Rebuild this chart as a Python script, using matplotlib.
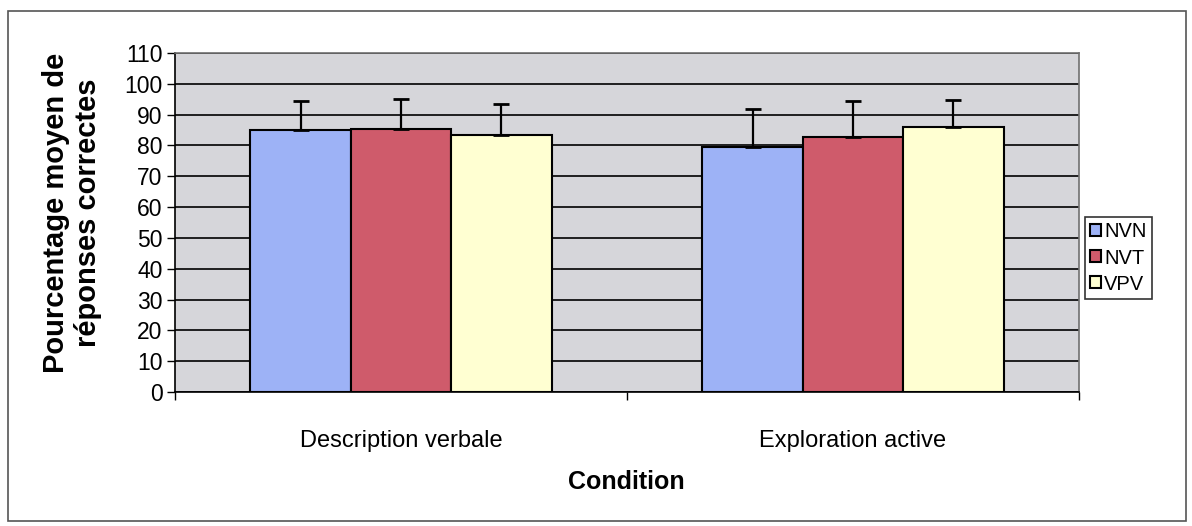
# Graphique à barres : pourcentage moyen de réponses correctes par condition
import numpy as np
import matplotlib.pyplot as plt
from matplotlib.patches import Rectangle

plt.rcParams['font.family'] = ['Liberation Sans', 'DejaVu Sans']

# Données
conditions = ['Description verbale', 'Exploration active']
groupes = ['NVN', 'NVT', 'VPV']
moyennes = {
    'NVN': [85.0, 79.4],
    'NVT': [85.4, 82.9],
    'VPV': [83.4, 86.1],
}
erreurs = {
    'NVN': [9.5, 12.4],
    'NVT': [9.8, 11.6],
    'VPV': [10.2, 8.8],
}
couleurs = {'NVN': '#9db2f6', 'NVT': '#cf5b6b', 'VPV': '#ffffd2'}

fig = plt.figure(figsize=(11.92, 5.26), dpi=100)
W, H = 1192, 526
ax = fig.add_axes([175 / W, 1 - 392 / H, (1079 - 175) / W, (392 - 53) / H])

# Cadre extérieur
fig.patches.append(Rectangle((8 / W, 1 - 521 / H), (1186 - 8) / W, (521 - 11) / H,
                             transform=fig.transFigure, fill=False,
                             edgecolor='#555555', linewidth=1.2))

x = np.arange(len(conditions))
largeur = 1 / 4.5
for i, g in enumerate(groupes):
    pos = x + (i - 1) * largeur
    ax.bar(pos, moyennes[g], width=largeur, color=couleurs[g],
           edgecolor='black', linewidth=1.5, label=g, zorder=3)
    ax.errorbar(pos, moyennes[g], yerr=[np.zeros(len(x)), erreurs[g]],
                fmt='none', ecolor='black', elinewidth=1.6, capsize=6,
                capthick=2, zorder=4)

ax.set_facecolor('#d6d6da')
ax.set_ylim(0, 110)
ax.set_xlim(-0.5, 1.5)
ax.set_yticks(np.arange(0, 111, 10))
ax.yaxis.grid(True, color='black', linewidth=1.2, zorder=1)
ax.set_axisbelow(True)

ax.set_xticks([-0.5, 0.5, 1.5])
ax.set_xticklabels([])
ax.set_xticks(x, minor=True)
ax.set_xticklabels(conditions, minor=True, fontsize=17)
ax.tick_params(axis='x', which='major', direction='out', length=6, width=1)
ax.tick_params(axis='x', which='minor', length=0, pad=27)
ax.tick_params(axis='y', direction='out', length=6, width=1, labelsize=16.5, pad=3)

for s in ['left', 'bottom']:
    ax.spines[s].set_color('black')
    ax.spines[s].set_linewidth(1.2)
for s in ['top', 'right']:
    ax.spines[s].set_color('#707070')
    ax.spines[s].set_linewidth(1.2)

# Titres des axes
fig.text(72 / W, 1 - 213 / H, 'Pourcentage moyen de\nréponses correctes',
         rotation=90, ha='center', va='center', multialignment='center',
         fontsize=21, fontweight='bold')
fig.text(626 / W, 1 - 482 / H, 'Condition', ha='center', va='center',
         fontsize=18, fontweight='bold')

# Légende
leg = ax.legend(loc='center left', bbox_to_anchor=(1085 / W, 1 - 258 / H),
                bbox_transform=fig.transFigure, fontsize=14.5, frameon=True,
                fancybox=False, edgecolor='#333333', framealpha=1,
                handlelength=0.55, handleheight=0.55, handletextpad=0.15,
                labelspacing=0.35, borderpad=0.25, borderaxespad=0)
leg.get_frame().set_linewidth(1.2)

fig.savefig('out.png', dpi=100)
